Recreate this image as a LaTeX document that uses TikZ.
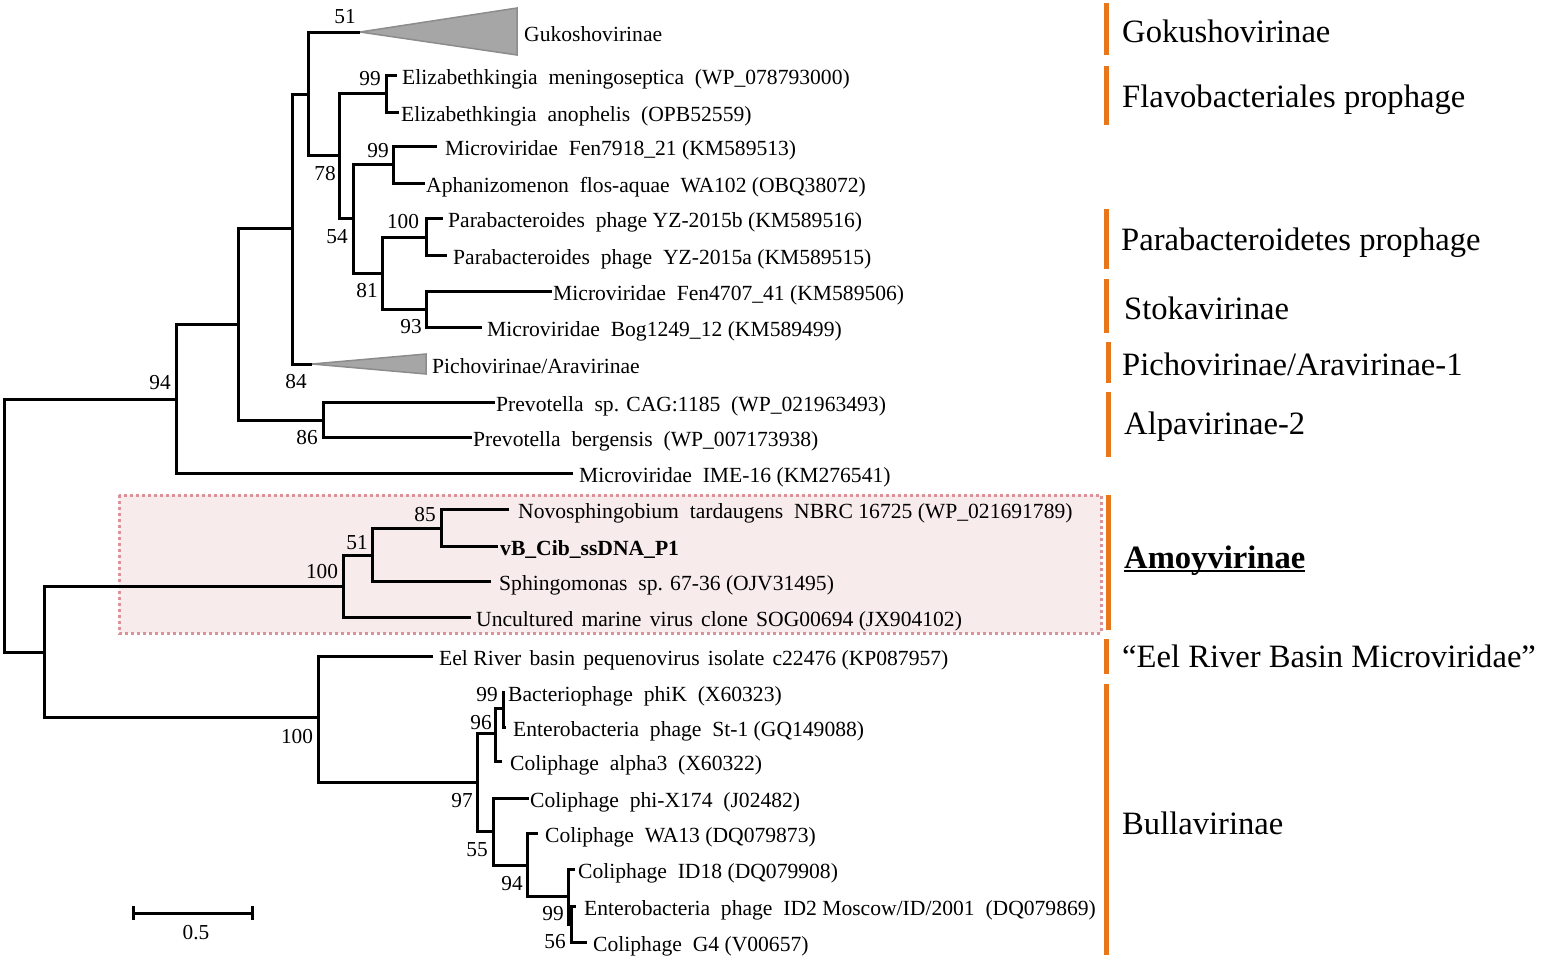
\documentclass[tikz,border=0pt]{standalone}
\usepackage{fontspec}
\setmainfont{Liberation Serif}
\newcommand{\WG}{\hspace{0.5em}}
\newcommand{\WGs}{\hspace{0.38em}}
\definecolor{orng}{RGB}{232,118,26}
\definecolor{pinkfill}{RGB}{247,235,235}
\definecolor{pinkdot}{RGB}{220,145,152}
\definecolor{trifill}{RGB}{166,166,166}
\definecolor{tridraw}{RGB}{140,140,140}
\begin{document}
\begin{tikzpicture}[x=1pt,y=-1pt,
  treeline/.style={line width=3pt, black},
  leaflab/.style={anchor=west, inner xsep=3pt, inner ysep=0pt, text height=18pt, text depth=0pt, font=\fontsize{21.6}{24}\selectfont},
  bootlab/.style={inner sep=0pt, font=\fontsize{21.3}{24}\selectfont},
  catlab/.style={anchor=base west, inner sep=0pt, font=\fontsize{32.6}{36}\selectfont},
  orbar/.style={fill=orng, draw=none},
  tribox/.style={fill=trifill, draw=tridraw, line width=1.5pt, line join=miter},
]
\useasboundingbox (0,0) rectangle (1550,961);

% Amoyvirinae highlight box
\draw[pinkdot, fill=pinkfill, line width=3pt, dash pattern=on 3pt off 3pt] (119,495) rectangle (1101,633);

% internal nodes
\coordinate (R) at (4,525);
\coordinate (N94) at (176,399);
\coordinate (N238) at (238,324);
\coordinate (NA) at (292,228);
\coordinate (NB) at (308,94);
\coordinate (NC) at (339,155);
\coordinate (NEliz) at (386,93);
\coordinate (N54) at (353,218);
\coordinate (N99m) at (393,164);
\coordinate (N81) at (382,273);
\coordinate (N100p) at (426,237);
\coordinate (N93) at (426,309);
\coordinate (N86) at (323,420);
\coordinate (N44) at (44,652);
\coordinate (N100a) at (343,586);
\coordinate (N51a) at (372,555);
\coordinate (N85) at (441,528);
\coordinate (N318) at (318,717);
\coordinate (N97) at (477,782);
\coordinate (N96) at (495,733);
\coordinate (N99b) at (503,708);
\coordinate (N55) at (493,831);
\coordinate (N94b) at (527,865);
\coordinate (N99c) at (568,896);
\coordinate (N56) at (571,924);

% collapsed clades
\coordinate (gukA) at (360,32);
\coordinate (gukT) at (517,8);
\coordinate (gukB) at (517,55);
\coordinate (pichA) at (312,364);
\coordinate (pichT) at (426,354);
\coordinate (pichB) at (426,374);
\draw[tribox] (gukA) -- (gukT) -- (gukB) -- cycle;
\draw[tribox] (pichA) -- (pichT) -- (pichB) -- cycle;

% leaves
\node[leaflab, inner xsep=7pt] (L1) at (517,32) {Gukoshovirinae};
\node[leaflab, inner xsep=5pt] (L2) at (397,75) {Elizabethkingia\WG meningoseptica\WG (WP\_078793000)};
\node[leaflab, inner xsep=2pt] (L3) at (399,112) {Elizabethkingia\WG anophelis\WG (OPB52559)};
\node[leaflab, inner xsep=8pt] (L4) at (437,146) {Microviridae\WG Fen7918\_21 (KM589513)};
\node[leaflab, inner xsep=1pt] (L5) at (425,183) {Aphanizomenon\WG flos-aquae\WG WA102 (OBQ38072)};
\node[leaflab, inner xsep=5pt] (L6) at (443,218) {Parabacteroides\WG phage YZ-2015b (KM589516)};
\node[leaflab, inner xsep=6pt] (L7) at (447,255) {Parabacteroides\WG phage\WG YZ-2015a (KM589515)};
\node[leaflab, inner xsep=1pt] (L8) at (552,291) {Microviridae\WG Fen4707\_41 (KM589506)};
\node[leaflab, inner xsep=5pt] (L9) at (482,327) {Microviridae\WG Bog1249\_12 (KM589499)};
\node[leaflab, inner xsep=6pt] (L10) at (426,364) {Pichovirinae/Aravirinae};
\node[leaflab, inner xsep=1pt] (L11) at (495,402) {Prevotella\WG sp. CAG:1185\WG (WP\_021963493)};
\node[leaflab, inner xsep=1pt] (L12) at (472,437) {Prevotella\WG bergensis\WG (WP\_007173938)};
\node[leaflab, inner xsep=6pt] (L13) at (573,473) {Microviridae\WG IME-16 (KM276541)};
\node[leaflab, inner xsep=9pt] (L14) at (509,509) {Novosphingobium\WG tardaugens\WG NBRC 16725 (WP\_021691789)};
\node[leaflab, inner xsep=2pt] (L15) at (498,546) {\bfseries vB\_Cib\_ssDNA\_P1};
\node[leaflab, inner xsep=8pt] (L16) at (491,581) {Sphingomonas\WG sp. 67-36 (OJV31495)};
\node[leaflab, inner xsep=5pt] (L17) at (471,617) {Uncultured\WGs marine\WGs virus\WGs clone\WGs SOG00694 (JX904102)};
\node[leaflab, inner xsep=6pt] (L18) at (433,656) {Eel River\WGs basin\WGs pequenovirus\WGs isolate\WGs c22476 (KP087957)};
\node[leaflab, inner xsep=3pt] (L19) at (505,692) {Bacteriophage\WG phiK\WG (X60323)};
\node[leaflab, inner xsep=7pt] (L20) at (506,727) {Enterobacteria\WG phage\WG St-1 (GQ149088)};
\node[leaflab, inner xsep=8pt] (L21) at (502,761) {Coliphage\WG alpha3\WG (X60322)};
\node[leaflab, inner xsep=1pt] (L22) at (529,798) {Coliphage\WG phi-X174\WG (J02482)};
\node[leaflab, inner xsep=7pt] (L23) at (538,833) {Coliphage\WG WA13 (DQ079873)};
\node[leaflab, inner xsep=3pt] (L24) at (575,869) {Coliphage\WG ID18 (DQ079908)};
\node[leaflab, inner xsep=8pt] (L25) at (576,906) {Enterobacteria\WG phage\WG ID2 Moscow/ID/2001\WG (DQ079869)};
\node[leaflab, inner xsep=6pt] (L26) at (587,942) {Coliphage\WG G4 (V00657)};

% branches
\draw[treeline] (R) |- (N94);
\draw[treeline] (R) |- (N44);
\draw[treeline] (N94) |- (N238);
\draw[treeline] (N94) |- (L13.west);
\draw[treeline] (N238) |- (NA);
\draw[treeline] (N238) |- (N86);
\draw[treeline] (NA) |- (NB);
\draw[treeline] (NA) |- (pichA);
\draw[treeline] (NB) |- (gukA);
\draw[treeline] (NB) |- (NC);
\draw[treeline] (NC) |- (NEliz);
\draw[treeline] (NC) |- (N54);
\draw[treeline] (NEliz) |- (L2.west);
\draw[treeline] (NEliz) |- (L3.west);
\draw[treeline] (N54) |- (N99m);
\draw[treeline] (N54) |- (N81);
\draw[treeline] (N99m) |- (L4.west);
\draw[treeline] (N99m) |- (L5.west);
\draw[treeline] (N81) |- (N100p);
\draw[treeline] (N81) |- (N93);
\draw[treeline] (N100p) |- (L6.west);
\draw[treeline] (N100p) |- (L7.west);
\draw[treeline] (N93) |- (L8.west);
\draw[treeline] (N93) |- (L9.west);
\draw[treeline] (N86) |- (L11.west);
\draw[treeline] (N86) |- (L12.west);
\draw[treeline] (N44) |- (N100a);
\draw[treeline] (N44) |- (N318);
\draw[treeline] (N100a) |- (N51a);
\draw[treeline] (N100a) |- (L17.west);
\draw[treeline] (N51a) |- (N85);
\draw[treeline] (N51a) |- (L16.west);
\draw[treeline] (N85) |- (L14.west);
\draw[treeline] (N85) |- (L15.west);
\draw[treeline] (N318) |- (L18.west);
\draw[treeline] (N318) |- (N97);
\draw[treeline] (N97) |- (N96);
\draw[treeline] (N97) |- (N55);
\draw[treeline] (N96) |- (N99b);
\draw[treeline] (N96) |- (L21.west);
\draw[treeline] (N99b) |- (L19.west);
\draw[treeline] (N99b) |- (L20.west);
\draw[treeline] (N55) |- (L22.west);
\draw[treeline] (N55) |- (N94b);
\draw[treeline] (N94b) |- (L23.west);
\draw[treeline] (N94b) |- (N99c);
\draw[treeline] (N99c) |- (L24.west);
\draw[treeline] (N99c) |- (N56);
\draw[treeline] (N56) |- (L25.west);
\draw[treeline] (N56) |- (L26.west);

% bootstrap values
\node[bootlab] (b1) at (345,17) {51};
\node[bootlab] (b2) at (370,79) {99};
\node[bootlab] (b3) at (378,151) {99};
\node[bootlab] (b4) at (325,174) {78};
\node[bootlab] (b5) at (403,222) {100};
\node[bootlab] (b6) at (337,237) {54};
\node[bootlab] (b7) at (367,291) {81};
\node[bootlab] (b8) at (411,327) {93};
\node[bootlab] (b9) at (296,382) {84};
\node[bootlab] (b10) at (160,383) {94};
\node[bootlab] (b11) at (307,438) {86};
\node[bootlab] (b12) at (425,515) {85};
\node[bootlab] (b13) at (357,543) {51};
\node[bootlab] (b14) at (322,572) {100};
\node[bootlab] (b15) at (297,737) {100};
\node[bootlab] (b16) at (487,695) {99};
\node[bootlab] (b17) at (481,723) {96};
\node[bootlab] (b18) at (462,801) {97};
\node[bootlab] (b19) at (477,850) {55};
\node[bootlab] (b20) at (512,884) {94};
\node[bootlab] (b21) at (553,914) {99};
\node[bootlab] (b22) at (555,942) {56};

% scale bar
\coordinate (sbL) at (133,913);
\coordinate (sbR) at (252,913);
\draw[line width=3pt] (sbL) -- (sbR);
\draw[line width=3pt] ([yshift=7pt]sbL) -- ([yshift=-7pt]sbL);
\draw[line width=3pt] ([yshift=7pt]sbR) -- ([yshift=-7pt]sbR);
\node[bootlab] (sbT) at (196,933) {0.5};

% category bars
\fill[orbar] (1104,3) rectangle (1109,55);
\fill[orbar] (1104,66) rectangle (1109,125);
\fill[orbar] (1104,209) rectangle (1109,269);
\fill[orbar] (1104,279) rectangle (1109,333);
\fill[orbar] (1106,342) rectangle (1111,383);
\fill[orbar] (1106,392) rectangle (1111,457);
\fill[orbar] (1106,495) rectangle (1111,630);
\fill[orbar] (1104,639) rectangle (1109,674);
\fill[orbar] (1104,684) rectangle (1109,955);

% category labels
\node[catlab] (C1) at (1122,42) {Gokushovirinae};
\node[catlab] (C2) at (1122,107) {Flavobacteriales prophage};
\node[catlab] (C3) at (1121,250) {Parabacteroidetes prophage};
\node[catlab] (C4) at (1124,319) {Stokavirinae};
\node[catlab] (C5) at (1122,375) {Pichovirinae/Aravirinae-1};
\node[catlab] (C6) at (1124,434) {Alpavirinae-2};
\node[catlab] (C7) at (1124,568) {\bfseries Amoyvirinae};
\draw[line width=1.6pt] ([yshift=-3pt]C7.base west) -- ([yshift=-3pt]C7.base east);
\node[catlab] (C8) at (1122,667) {“Eel River Basin Microviridae”};
\node[catlab] (C9) at (1122,834) {Bullavirinae};
\end{tikzpicture}
\end{document}
